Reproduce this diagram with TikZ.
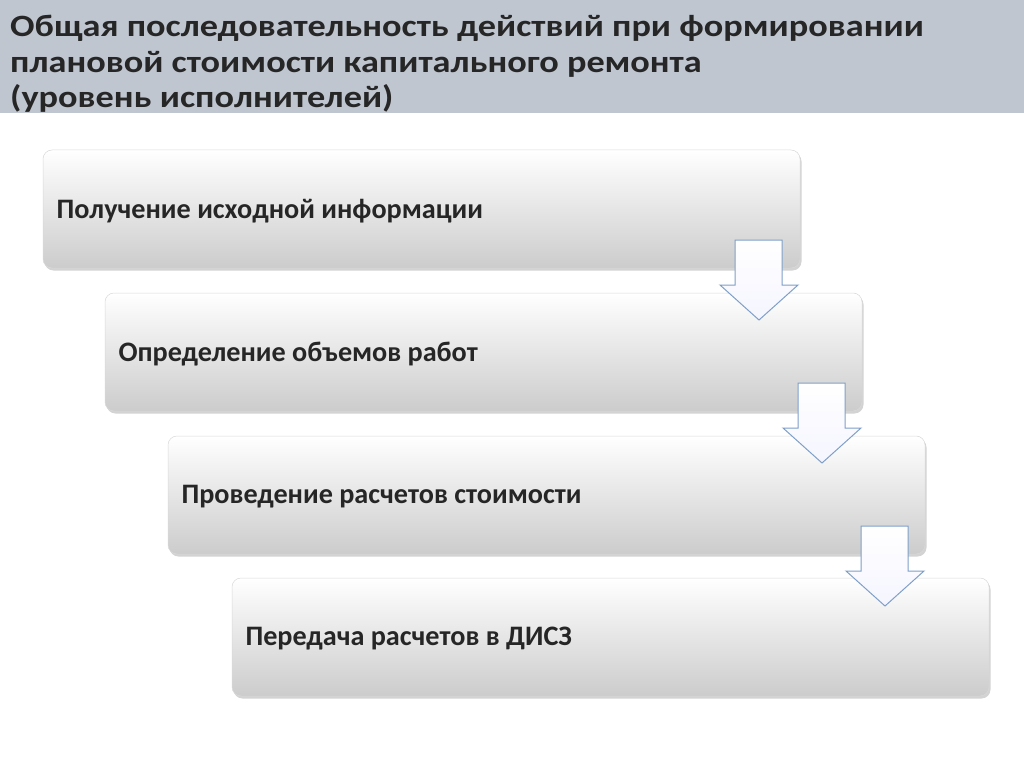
\documentclass[tikz,border=0pt]{standalone}
\usepackage{fontspec}
\setmainfont{Carlito}
\newfontfamily\titlefont[FakeStretch=1.17,BoldFeatures={FakeStretch=1.17}]{Carlito}
\usetikzlibrary{shadows}
\definecolor{hdr}{HTML}{C0C6D0}
\definecolor{arr}{HTML}{7F9FC8}
\tikzset{
  stepbox/.style={rounded corners=9pt, top color=white, bottom color=black!20, draw=black!15, line width=0.5pt, drop shadow={shadow xshift=1.5pt, shadow yshift=-2.5pt, opacity=0.35}},
  lbl/.style={anchor=west, font=\bfseries\fontsize{28.2}{30}\selectfont, text=black!85},
  downarrow/.style={draw=arr, line width=1pt, top color=white, bottom color=blue!4, line join=miter}
}
\begin{document}
\begin{tikzpicture}[x=1pt,y=-1pt]
\useasboundingbox (0,0) rectangle (1024,767);
\fill[hdr] (0,0) rectangle (1024,113);
\node[anchor=north west, align=left, inner sep=0pt, font=\titlefont\bfseries\fontsize{31}{35.5}\selectfont, text=black!85] (title) at (10,15) {Общая последовательность действий при формировании\\плановой стоимости капитального ремонта\\(уровень исполнителей)};
\foreach \i/\x/\y/\t in {1/43/150/Получение исходной информации, 2/105/293/Определение объемов работ, 3/168/436/Проведение расчетов стоимости, 4/232/578/Передача расчетов в ДИСЗ}{
  \draw[stepbox] (\x,\y) rectangle ++(757,118);
  \node[lbl] (t\i) at (\x+10,\y+61) {\t};
}
\foreach \x/\y in {720/240, 783/383, 846/526}{
  \draw[downarrow] (\x+15,\y) -- (\x+62,\y) -- (\x+62,\y+45) -- (\x+78,\y+45) -- (\x+39,\y+80) -- (\x,\y+45) -- (\x+15,\y+45) -- cycle;
}
\end{tikzpicture}
\end{document}
